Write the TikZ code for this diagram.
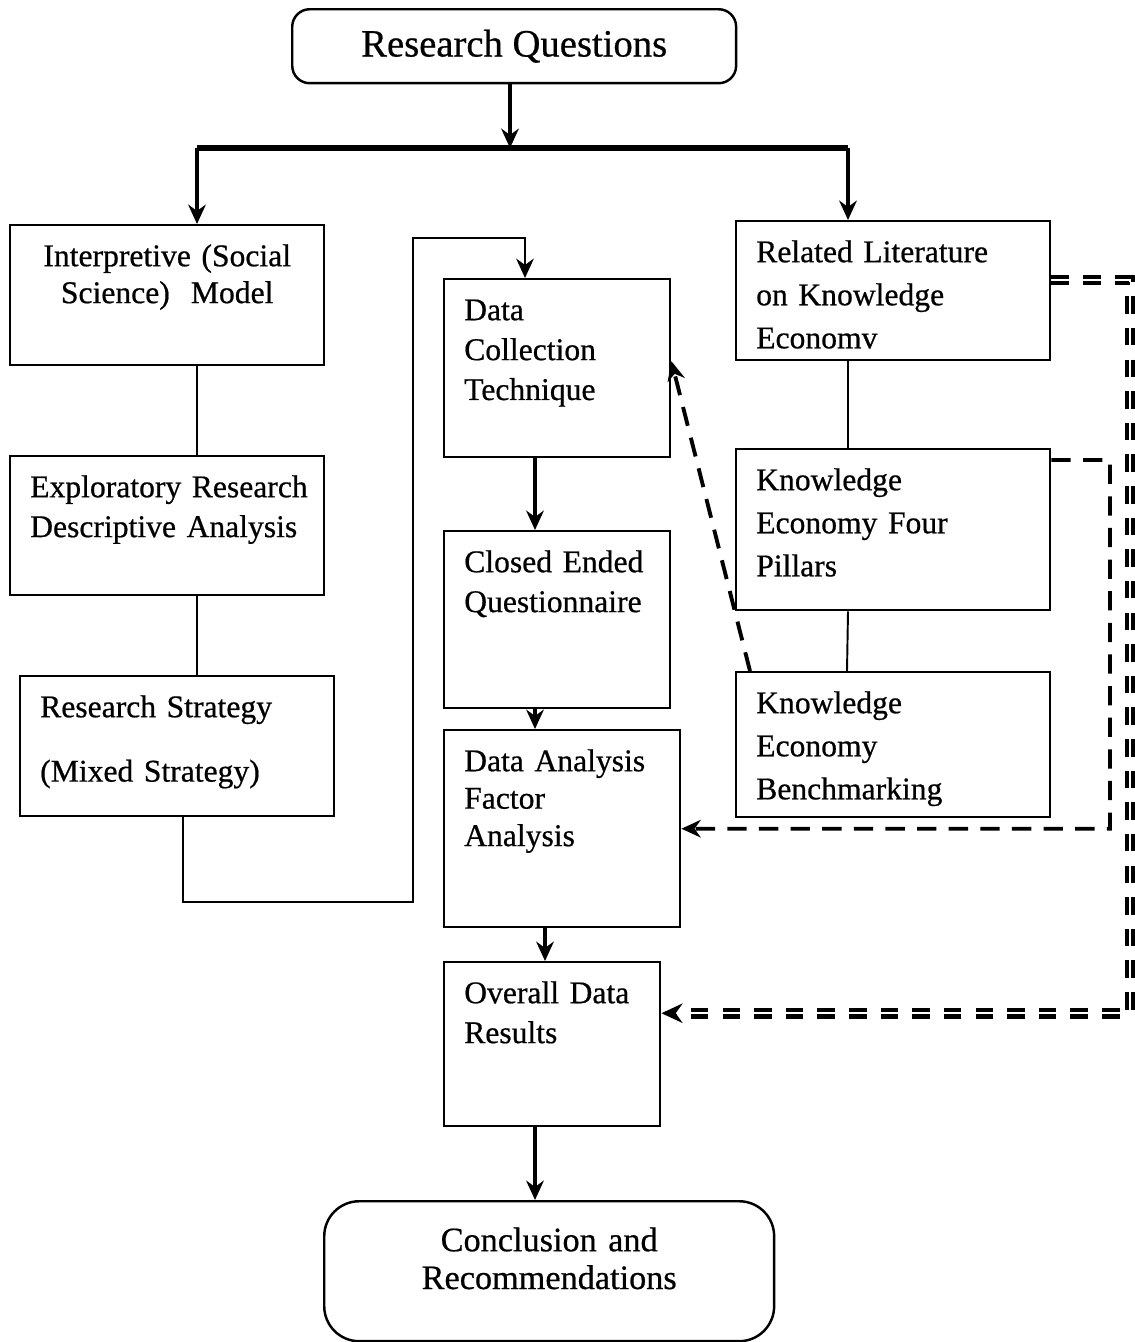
\documentclass[tikz,border=0pt]{standalone}
\usepackage{fontspec}
\setmainfont{Liberation Serif}[FakeBold=0.6]
\usepackage{tikz}
\usetikzlibrary{positioning,arrows.meta}

\begin{document}
\begin{tikzpicture}[x=0.02cm, y=-0.02cm,
  stage/.style={draw, line width=1.4pt, anchor=north west, align=left,
    inner xsep=0.4cm, inner ysep=0.2cm, text height=0.62cm,
    font=\fontsize{18}{22.7}\selectfont},
  wide/.style={font=\fontsize{18}{24.5}\selectfont},
  endcap/.style={draw, line width=1.4pt, anchor=north west, align=center},
  flow/.style={-{Stealth[length=11pt,width=10pt]}, line width=2pt},
  link/.style={line width=1.1pt},
  feed/.style={-{Stealth[length=11pt,width=10pt]}, line width=2.2pt, dash pattern=on 11pt off 7pt},
  strongfeed/.style={-{Stealth[length=12pt,width=11pt]}, line width=2.4pt, double, double distance=1.2pt,
    dash pattern=on 10pt off 8pt}]
\useasboundingbox (0,0) rectangle (1134,1342);

% top and bottom
\node[endcap, rounded corners=0.35cm, minimum width=8.88cm, minimum height=1.48cm,
  font=\fontsize{22}{26}\selectfont] (rq) at (291,8) {Research Questions};
\node[endcap, rounded corners=0.7cm, text width=8.2cm, inner xsep=0.4cm, inner ysep=0.2cm,
  text height=0.8cm, text depth=1.6cm, font=\fontsize{19.5}{21.5}\selectfont]
  (cr) at (323,1200) {Conclusion and\\Recommendations};

% left column
\node[stage, align=center, text width=5.48cm, text depth=1.78cm,
  font=\fontsize{18}{21}\selectfont] (interp) at (9,224) {Interpretive (Social\\Science)~~Model};
\node[stage, text width=5.48cm, text depth=1.76cm] (explor) at (9,455)
  {\mbox{Exploratory Research}\\Descriptive Analysis};
\node[stage, text width=5.48cm, text depth=1.78cm] (strat) at (19,675)
  {Research Strategy\\[0.49cm](Mixed Strategy)};

% middle column
\node[stage, text width=3.72cm, text depth=2.54cm] (dc) at (443,278) {Data\\Collection\\Technique};
\node[stage, text width=3.72cm, text depth=2.52cm] (ce) at (443,530) {Closed Ended\\Questionnaire};
\node[stage, text width=3.92cm, text depth=2.92cm,
  font=\fontsize{18}{21.3}\selectfont] (da) at (443,729) {Data Analysis\\Factor\\Analysis};
\node[stage, text width=3.52cm, text depth=2.26cm] (od) at (443,961) {Overall Data\\Results};

% right column
\node[stage, wide, text width=5.48cm, text depth=1.76cm] (rl) at (735,220)
  {Related Literature\\on Knowledge\\Economv};
\node[stage, wide, text width=5.48cm, text depth=2.2cm] (kp) at (735,448)
  {Knowledge\\Economy Four\\Pillars};
\node[stage, wide, text width=5.48cm, text depth=1.88cm] (kb) at (735,671)
  {Knowledge\\Economy\\Benchmarking};

% turning points
\coordinate (tl) at (197,148);
\coordinate (tr) at (848,148);
\coordinate (sloop) at (183,902);
\coordinate (dloop) at (413,238);
\coordinate (dcin) at (525,238);
\coordinate (midcol) at (535,0);
\coordinate (dacol) at (545,0);
\coordinate (kpturn) at (1110,460);
\coordinate (rlturn) at (1130,280);

% trunk
\draw[flow] (rq.south -| 510,0) -- (510,148);
\draw[line width=3pt] (tl) -- (tr);
\draw[flow] (tl) -- (tl |- interp.north);
\draw[flow] (tr) -- (tr |- rl.north);

% links
\draw[link] (tl |- interp.south) -- (tl |- explor.north);
\draw[link] (tl |- explor.south) -- (tl |- strat.north);
\draw[link] (tr |- rl.south) -- (tr |- kp.north);
\draw[link] (tr |- kp.south) -- (847,671);

% strategy to data collection
\draw[flow, line width=1.6pt] (sloop |- strat.south) -- (sloop) -| (dloop) -- (dcin) -- (dcin |- dc.north);

% middle flow
\draw[flow] (midcol |- dc.south) -- (midcol |- ce.north);
\draw[flow] (midcol |- ce.south) -- (midcol |- da.north);
\draw[flow] (dacol |- da.south) -- (dacol |- od.north);
\draw[flow] (midcol |- od.south) -- (midcol |- cr.north);

% feedback
\draw[feed] ([xshift=0.3cm]kb.north west) -- ([yshift=0.14cm]dc.east);
\draw[feed] ([yshift=-0.24cm]kp.north east) -- (kpturn) |- (da.east);
\draw[strongfeed] (rl.east |- rlturn) -- (rlturn) |- ([yshift=0.62cm]od.east);
\end{tikzpicture}
\end{document}
